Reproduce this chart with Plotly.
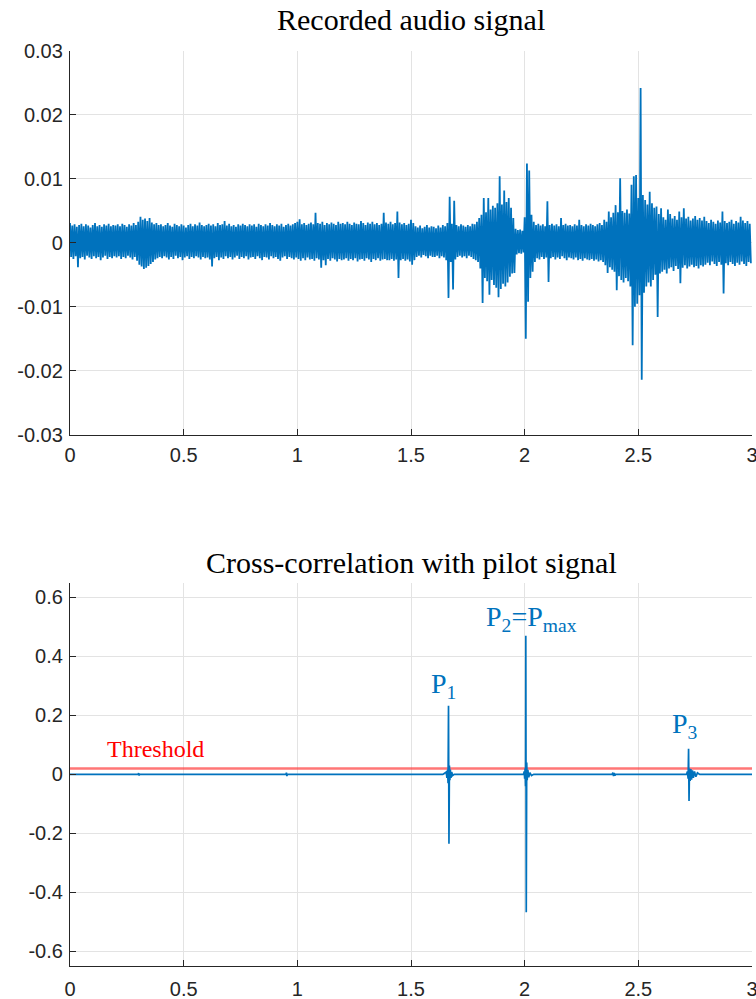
import plotly.graph_objects as go
from plotly.subplots import make_subplots

# ---------------- data ----------------
# Recorded audio signal: per-10 ms bin upper / lower peak values (units of 1e-4)
BIN = 0.01
sig_hi = [
    31, 27, 29, 25, 28, 30, 26, 29, 27, 24, 28, 31, 26, 28, 25, 29, 27, 30, 26, 28,
    27, 29, 26, 30, 28, 25, 29, 27, 31, 28, 33, 41, 36, 38, 34, 39, 32, 29, 31, 28,
    29, 26, 28, 31, 27, 25, 30, 28, 26, 29, 27, 24, 28, 30, 26, 29, 27, 32, 28, 26,
    28, 30, 27, 29, 26, 31, 28, 29, 34, 27, 30, 26, 28, 25, 29, 27, 30, 28, 26, 29,
    27, 29, 25, 30, 28, 26, 29, 27, 31, 28, 26, 29, 27, 30, 25, 28, 30, 27, 29, 31,
    33, 37, 29, 31, 28, 30, 32, 29, 47, 31, 30, 33, 28, 31, 29, 32, 30, 28, 33, 30,
    31, 29, 33, 30, 28, 32, 30, 29, 34, 31, 28, 32, 30, 33, 29, 31, 28, 30, 47, 32,
    30, 33, 29, 31, 49, 32, 29, 31, 28, 30, 36, 31, 26, 24, 27, 23, 25, 28, 24, 26,
    25, 23, 27, 24, 28, 26, 31, 72, 30, 66, 28, 26, 29, 27, 25, 28, 26, 30, 29, 33,
    39, 44, 70, 48, 70, 52, 58, 55, 62, 104, 60, 82, 64, 70, 55, 39, 22, 20, 21, 19,
    40, 124, 113, 44, 33, 28, 30, 27, 29, 26, 65, 28, 30, 27, 29, 26, 39, 28, 30, 27,
    28, 26, 29, 27, 36, 28, 26, 29, 27, 30, 28, 26, 29, 31, 28, 36, 33, 49, 40, 47,
    59, 48, 101, 50, 47, 52, 46, 91, 104, 106, 70, 242, 75, 67, 60, 80, 62, 55, 57, 45,
    54, 40, 36, 52, 45, 38, 42, 36, 49, 40, 54, 38, 41, 35, 38, 42, 36, 39, 35, 41,
    34, 31, 36, 33, 30, 35, 32, 49, 34, 31, 33, 36, 30, 34, 32, 41, 35, 31, 34, 30,
]
sig_lo = [
    -22, -25, -21, -38, -24, -22, -26, -20, -23, -25, -21, -24, -22, -27, -23, -20, -25, -22, -24, -21,
    -23, -21, -25, -22, -24, -20, -23, -26, -22, -28, -34, -37, -41, -39, -36, -33, -30, -26, -24, -22,
    -24, -21, -23, -26, -22, -25, -20, -24, -22, -27, -23, -21, -25, -22, -24, -21, -23, -26, -22, -24,
    -23, -26, -37, -24, -22, -27, -23, -25, -21, -24, -22, -26, -23, -20, -25, -22, -24, -21, -26, -23,
    -22, -25, -21, -24, -27, -22, -23, -26, -21, -24, -22, -25, -28, -23, -21, -25, -22, -24, -26, -23,
    -25, -28, -24, -27, -23, -26, -25, -28, -24, -26, -39, -27, -35, -25, -28, -24, -26, -29, -25, -27,
    -26, -24, -28, -25, -27, -24, -29, -26, -25, -28, -24, -26, -30, -25, -27, -24, -28, -26, -25, -27,
    -27, -25, -28, -26, -55, -27, -25, -28, -26, -29, -34, -27, -22, -20, -23, -19, -21, -24, -20, -22,
    -22, -20, -24, -21, -23, -27, -86, -30, -73, -26, -22, -20, -23, -21, -24, -20, -22, -25, -27, -30,
    -40, -94, -55, -60, -81, -58, -66, -70, -85, -72, -64, -68, -62, -53, -48, -47, -18, -16, -17, -15,
    -150, -92, -55, -45, -30, -24, -26, -22, -25, -23, -61, -24, -22, -26, -23, -25, -21, -24, -27, -23,
    -24, -26, -23, -27, -25, -28, -24, -26, -27, -25, -28, -26, -29, -27, -30, -35, -47, -38, -42, -45,
    -74, -52, -58, -62, -55, -60, -68, -160, -100, -95, -82, -214, -78, -68, -62, -68, -58, -50, -116, -48,
    -45, -42, -48, -40, -38, -44, -36, -41, -63, -39, -35, -40, -37, -34, -38, -36, -40, -35, -37, -34,
    -31, -35, -29, -33, -36, -30, -34, -79, -32, -35, -30, -33, -36, -31, -34, -29, -33, -36, -30, -32,
]

# Cross-correlation with pilot signal (time s, value)
xc_t = [0.000, 0.300, 0.302, 0.304, 0.306, 0.950, 0.952, 0.954, 0.956,
        1.640, 1.655, 1.658, 1.661, 1.663, 1.665, 1.667, 1.669, 1.671, 1.673, 1.676, 1.679, 1.683, 1.690,
        1.995, 1.998, 2.000, 2.002, 2.004, 2.005, 2.007, 2.009, 2.011, 2.014, 2.018, 2.023, 2.030, 2.040,
        2.385, 2.388, 2.391, 2.394, 2.397, 2.400,
        2.712, 2.716, 2.719, 2.721, 2.723, 2.725, 2.728, 2.731, 2.734, 2.738, 2.742, 2.747, 2.753, 2.760, 2.770,
        3.000]
xc_v = [0.000, 0.000, 0.004, -0.004, 0.000, 0.000, 0.006, -0.006, 0.000,
        0.000, 0.008, -0.012, 0.015, -0.030, 0.233, -0.235, 0.030, -0.020, 0.016, -0.012, 0.008, -0.004, 0.000,
        0.000, 0.010, -0.015, 0.020, -0.040, 0.470, -0.468, 0.040, -0.020, 0.015, -0.010, 0.006, -0.004, 0.000,
        0.000, 0.006, -0.006, 0.005, -0.004, 0.000,
        0.000, 0.010, -0.015, 0.087, -0.090, 0.020, -0.022, 0.018, -0.018, 0.014, -0.012, 0.010, -0.008, 0.005, 0.000,
        0.000]

threshold_t = [0.0, 3.0]
threshold_v = [0.02, 0.02]

peak_labels = ["P<sub>1</sub>", "P<sub>2</sub>=P<sub>max</sub>", "P<sub>3</sub>"]
peak_label_t = [1.641, 2.030, 2.704]
peak_label_v = [0.236, 0.462, 0.100]

x_ticks = [0, 0.5, 1, 1.5, 2, 2.5, 3]
x_ticktext = ["0", "0.5", "1", "1.5", "2", "2.5", "3"]
y1_ticks = [-0.03, -0.02, -0.01, 0, 0.01, 0.02, 0.03]
y1_ticktext = ["-0.03", "-0.02", "-0.01", "0", "0.01", "0.02", "0.03"]
y2_ticks = [-0.6, -0.4, -0.2, 0, 0.2, 0.4, 0.6]
y2_ticktext = ["-0.6", "-0.4", "-0.2", "0", "0.2", "0.4", "0.6"]

# ---------------- build series ----------------
sig_t, sig_v = [], []
for i, (h, l) in enumerate(zip(sig_hi, sig_lo)):
    sig_t += [i * BIN, i * BIN + BIN / 2]
    sig_v += [h * 1e-4, l * 1e-4]

BLUE = "#0072BD"
AX = "#262626"
GRID = "#E3E3E3"
SERIF = "Liberation Serif, Times New Roman, serif"
SANS = "Liberation Sans, Arial, sans-serif"

fig = make_subplots(rows=2, cols=1)
fig.update_layout(
    yaxis=dict(domain=[0.5806, 1.0]),
    yaxis2=dict(domain=[0.0, 0.4189]),
)

fig.add_trace(go.Scatter(x=sig_t, y=sig_v, mode="lines",
                         line=dict(color=BLUE, width=1.8), hoverinfo="skip"), row=1, col=1)
fig.add_trace(go.Scatter(x=threshold_t, y=threshold_v, mode="lines",
                         line=dict(color="rgba(255,60,60,0.7)", width=2.6), hoverinfo="skip"), row=2, col=1)
fig.add_trace(go.Scatter(x=xc_t, y=xc_v, mode="lines",
                         line=dict(color=BLUE, width=1.7), hoverinfo="skip"), row=2, col=1)

axis_common = dict(showgrid=True, gridcolor=GRID, gridwidth=1, zeroline=False, automargin=False,
                   showline=True, linecolor=AX, linewidth=1.3, ticks="inside", ticklen=6,
                   tickcolor=AX, tickwidth=1, tickfont=dict(family=SANS, size=20, color=AX))

fig.update_xaxes(range=[0, 3], tickvals=x_ticks, ticktext=x_ticktext, row=1, col=1,
                 ticklabeloverflow="allow", ticklabelstandoff=2, **axis_common)
fig.update_xaxes(range=[0, 3], tickvals=x_ticks, ticktext=x_ticktext, row=2, col=1,
                 ticklabeloverflow="allow", ticklabelstandoff=5, **axis_common)
fig.update_yaxes(range=[-0.03, 0.03], tickvals=y1_ticks, ticktext=y1_ticktext, row=1, col=1,
                 ticklabelstandoff=2, **axis_common)
fig.update_yaxes(range=[-0.65, 0.65], tickvals=y2_ticks, ticktext=y2_ticktext, row=2, col=1,
                 ticklabelstandoff=2, **axis_common)

annotations = [
    dict(text="Recorded audio signal", x=0.5, y=1.034, xref="paper", yref="paper",
         xanchor="center", yanchor="middle", showarrow=False,
         font=dict(family=SERIF, size=30, color="#000000")),
    dict(text="Cross-correlation with pilot signal", x=0.5, y=0.4405, xref="paper", yref="paper",
         xanchor="center", yanchor="middle", showarrow=False,
         font=dict(family=SERIF, size=30, color="#000000")),
    dict(text="Threshold", x=0.376, y=0.035, xref="x2", yref="y2",
         xanchor="center", yanchor="bottom", showarrow=False,
         font=dict(family=SERIF, size=24, color="#FF0000")),
]
for txt, tx, ty in zip(peak_labels, peak_label_t, peak_label_v):
    annotations.append(dict(text=txt, x=tx, y=ty, xref="x2", yref="y2",
                            xanchor="center", yanchor="bottom", showarrow=False,
                            font=dict(family=SERIF, size=28, color=BLUE)))

fig.update_layout(
    width=756, height=999,
    margin=dict(l=70, r=4, t=51, b=33, autoexpand=False),
    paper_bgcolor="white", plot_bgcolor="white",
    showlegend=False,
    annotations=annotations,
)

fig.write_html("out.html")
